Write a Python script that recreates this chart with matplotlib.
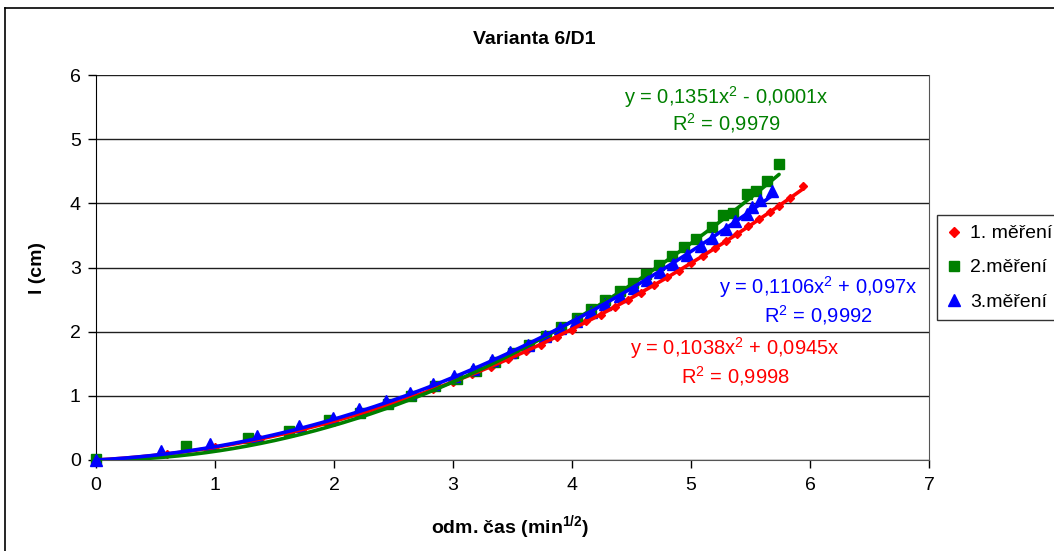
import numpy as np
import matplotlib
matplotlib.use("Agg")
import matplotlib.pyplot as plt
from matplotlib.lines import Line2D

plt.rcParams['font.family'] = ['Liberation Sans', 'DejaVu Sans']
plt.rcParams['mathtext.fontset'] = 'custom'
plt.rcParams['mathtext.rm'] = 'Liberation Sans'
plt.rcParams['mathtext.bf'] = 'Liberation Sans:bold'

# 1. měření
x1 = [0, 0.60, 1.00, 1.38, 1.73, 2.00, 2.24, 2.45, 2.65, 2.83, 3.00, 3.16, 3.32, 3.46,
      3.61, 3.74, 3.87, 4.00, 4.12, 4.24, 4.36, 4.47, 4.58, 4.69, 4.80, 4.90, 5.00,
      5.10, 5.20, 5.29, 5.39, 5.48, 5.57, 5.66, 5.74, 5.83, 5.94]
y1 = [0, 0.10, 0.20, 0.33, 0.47, 0.60, 0.73, 0.85, 0.98, 1.10, 1.21, 1.34, 1.45, 1.57,
      1.70, 1.80, 1.92, 2.03, 2.16, 2.26, 2.38, 2.50, 2.61, 2.72, 2.85, 2.95, 3.07,
      3.18, 3.30, 3.41, 3.52, 3.64, 3.75, 3.86, 3.96, 4.08, 4.27]

# 2.měření
x2 = [0, 0.76, 1.28, 1.62, 1.96, 2.22, 2.45, 2.65, 2.85, 3.03, 3.19, 3.35, 3.50, 3.64,
      3.78, 3.91, 4.04, 4.16, 4.28, 4.40, 4.51, 4.62, 4.73, 4.84, 4.94, 5.04, 5.18,
      5.27, 5.35, 5.47, 5.55, 5.64, 5.74]
y2 = [0.02, 0.22, 0.35, 0.45, 0.62, 0.74, 0.87, 1.00, 1.15, 1.27, 1.39, 1.53, 1.66, 1.79,
      1.93, 2.07, 2.21, 2.35, 2.49, 2.63, 2.76, 2.90, 3.04, 3.18, 3.32, 3.45, 3.63,
      3.82, 3.85, 4.15, 4.20, 4.35, 4.62]

# 3.měření
x3 = [0, 0.55, 0.96, 1.35, 1.71, 1.99, 2.21, 2.44, 2.64, 2.83, 3.01, 3.17, 3.33, 3.48,
      3.63, 3.77, 3.90, 4.03, 4.16, 4.28, 4.40, 4.52, 4.63, 4.74, 4.85, 4.97, 5.08,
      5.18, 5.29, 5.37, 5.47, 5.51, 5.58, 5.68]
y3 = [0, 0.14, 0.25, 0.38, 0.53, 0.66, 0.79, 0.92, 1.05, 1.18, 1.31, 1.42, 1.56, 1.68,
      1.80, 1.93, 2.05, 2.17, 2.30, 2.43, 2.55, 2.68, 2.80, 2.93, 3.06, 3.19, 3.33,
      3.46, 3.60, 3.72, 3.84, 3.95, 4.05, 4.20]

# polynomial trendlines (a*x^2 + b*x) and R^2
coef1 = (0.1038, 0.0945)
coef2 = (0.1351, -0.0001)
coef3 = (0.1106, 0.097)
r2 = ["0,9998", "0,9979", "0,9992"]

labels = ["1. měření", "2.měření", "3.měření"]
colors = ["#FF0000", "#008000", "#0000FF"]

W, H = 1054, 551
fig = plt.figure(figsize=(W / 100, H / 100), dpi=100)
ax = fig.add_axes([96 / W, 1 - 460 / H, 833 / W, 385 / H])

# markers
ax.plot(x1, y1, ls='none', marker='D', ms=4.5, color=colors[0], zorder=3, clip_on=False)
ax.plot(x2, y2, ls='none', marker='s', ms=6.5, color=colors[1], zorder=3, clip_on=False)
ax.plot(x3, y3, ls='none', marker='^', ms=8, color=colors[2], zorder=3, clip_on=False)

# trendlines
for xs, (a, b), c in zip([x1, x2, x3], [coef1, coef2, coef3], colors):
    xx = np.linspace(0, max(xs), 200)
    ax.plot(xx, a * xx ** 2 + b * xx, color=c, lw=2.6, zorder=4, solid_capstyle='round')

ax.set_xlim(0, 7)
ax.set_ylim(0, 6)
ax.set_xticks(range(0, 8))
ax.set_yticks(range(0, 7))
ax.yaxis.grid(True, color='#202020', lw=1)
ax.set_axisbelow(True)
ax.spines['top'].set_visible(False)
ax.spines['right'].set_color('#555555')
ax.spines['left'].set_color('black')
ax.spines['bottom'].set_color('#555555')
ax.tick_params(axis='both', direction='out', length=6, width=1, color='black',
               labelsize=14, pad=5)
ax.tick_params(axis='x', pad=6)

ax.set_xlabel(r'odm. čas (min$^{\mathbf{1/2}}$)', fontsize=14, fontweight='bold', va='center')
ax.xaxis.set_label_coords((510 - 96) / 833, (460 - 528) / 385)
ax.set_ylabel('l (cm)', fontsize=14, fontweight='bold', va='center')
ax.yaxis.set_label_coords((38 - 96) / 833, 0.5)

fig.text(534 / W, 1 - 40 / H, 'Varianta 6/D1', ha='center', va='center',
         fontsize=14, fontweight='bold')

# trendline equations
eq_fs = 14.5
ax.text(5.30, 5.66, r'y = 0,1351x$^2$ - 0,0001x', color=colors[1], ha='center', va='center', fontsize=eq_fs)
ax.text(5.30, 5.25, r'R$^2$ = ' + r2[1], color=colors[1], ha='center', va='center', fontsize=eq_fs)
ax.text(6.07, 2.70, r'y = 0,1106x$^2$ + 0,097x', color=colors[2], ha='center', va='center', fontsize=eq_fs)
ax.text(6.07, 2.26, r'R$^2$ = ' + r2[2], color=colors[2], ha='center', va='center', fontsize=eq_fs)
ax.text(5.37, 1.745, r'y = 0,1038x$^2$ + 0,0945x', color=colors[0], ha='center', va='center', fontsize=eq_fs)
ax.text(5.37, 1.31, r'R$^2$ = ' + r2[0], color=colors[0], ha='center', va='center', fontsize=eq_fs)

# legend
handles = [Line2D([], [], ls='none', marker='D', ms=5, color=colors[0]),
           Line2D([], [], ls='none', marker='s', ms=7, color=colors[1]),
           Line2D([], [], ls='none', marker='^', ms=9, color=colors[2])]
leg = fig.legend(handles, labels, loc='upper left', bbox_to_anchor=(937 / W, 1 - 215 / H),
                 fontsize=14, frameon=True, fancybox=False, handlelength=0.7,
                 handletextpad=0.5, labelspacing=0.85, borderpad=0.5, borderaxespad=0)
leg.get_frame().set_edgecolor('black')
leg.get_frame().set_linewidth(1)

# outer chart border
fig.add_artist(Line2D([5 / W, 5 / W], [0, 1 - 8 / H], transform=fig.transFigure, color='black', lw=1.2))
fig.add_artist(Line2D([5 / W, 1], [1 - 8 / H, 1 - 8 / H], transform=fig.transFigure, color='black', lw=1.2))

fig.savefig('out.png', dpi=100)
